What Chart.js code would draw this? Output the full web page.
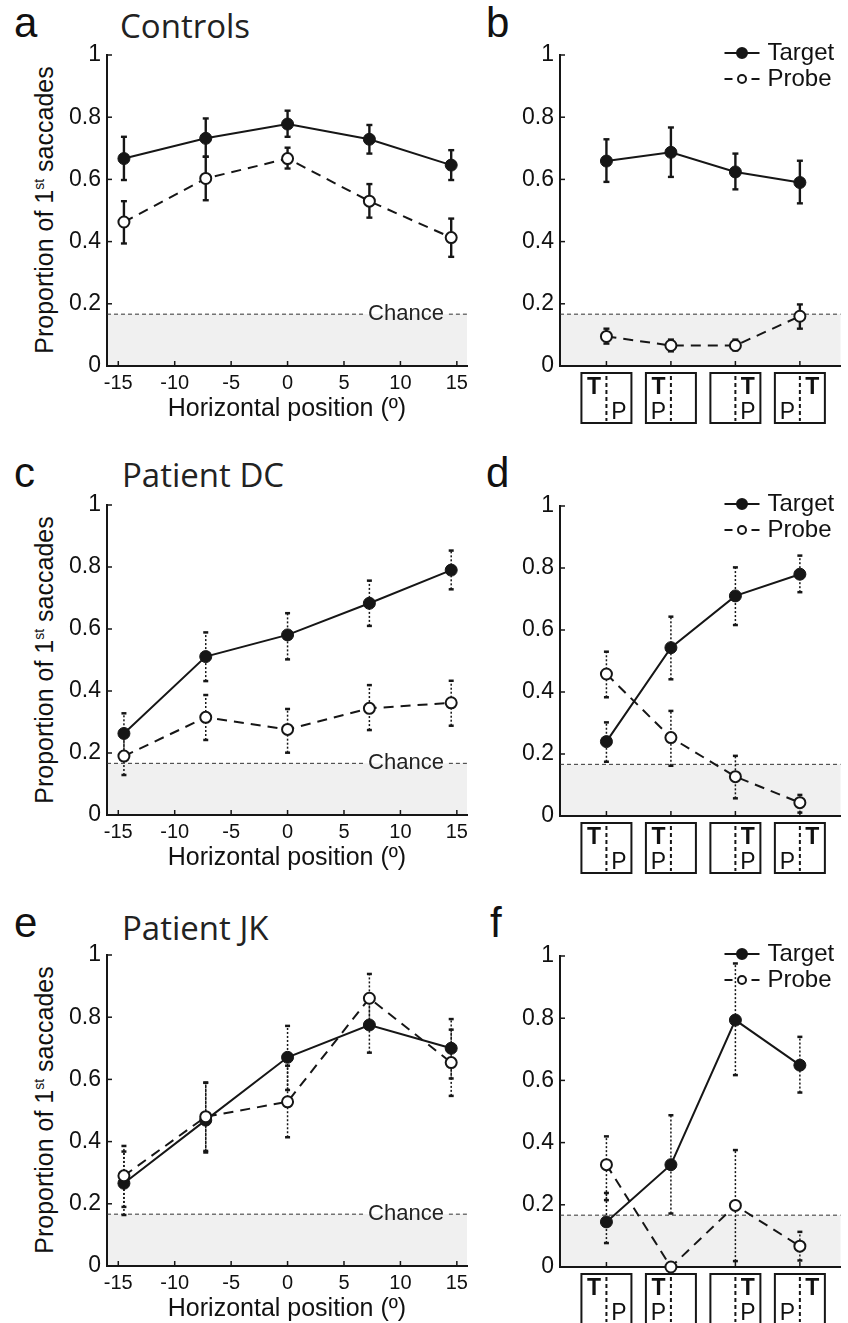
<!DOCTYPE html>
<html>
<head>
<meta charset="utf-8">
<script src="https://cdn.jsdelivr.net/npm/chart.js@4.4.1/dist/chart.umd.min.js"></script>
<style>
  body { margin: 0; background: #fff; }
  #fig { position: relative; width: 848px; height: 1323px; overflow: hidden;
         font-family: "Liberation Sans", Arial, sans-serif; color: #111; }
  #fig canvas { position: absolute; }
  .letter { position: absolute; font-size: 42px; line-height: 42px; }
  .title { position: absolute; font-family: "Open Sans", sans-serif; font-size: 33px; line-height: 33px; color: #222; }
  .ytitle { position: absolute; font-size: 25px; line-height: 25px; white-space: nowrap;
            transform: translate(-50%, -50%) rotate(-90deg); }
  .ytitle sup { font-size: 14px; vertical-align: 9px; line-height: 0; }
</style>
</head>
<body>
<div id="fig">
  <div class="letter" style="left:14px;top:2px">a</div>
  <div class="title" style="left:120px;top:9px">Controls</div>
  <div class="letter" style="left:486px;top:2px">b</div>
  <div class="letter" style="left:14px;top:452px">c</div>
  <div class="title" style="left:122px;top:458px">Patient DC</div>
  <div class="letter" style="left:486px;top:452px">d</div>
  <div class="letter" style="left:14px;top:902px">e</div>
  <div class="title" style="left:122px;top:911px">Patient JK</div>
  <div class="letter" style="left:490px;top:902px">f</div>
  <div class="ytitle" style="left:44px;top:210px">Proportion of 1<sup>st</sup> saccades</div>
  <div class="ytitle" style="left:44px;top:660px">Proportion of 1<sup>st</sup> saccades</div>
  <div class="ytitle" style="left:44px;top:1110px">Proportion of 1<sup>st</sup> saccades</div>
</div>
<script>
// positions and ticks
const posDeg = [-14.5, -7.25, 0, 7.25, 14.5]
const layoutPos = [1, 2, 3, 4]
const xTicksDeg = [-15, -10, -5, 0, 5, 10, 15]
const yTicks = [0, 0.2, 0.4, 0.6, 0.8, 1]
const iconT = ['L', 'L', 'R', 'R']
const iconP = ['R', 'L', 'R', 'L']
const CHANCE = 1 / 6

// a: controls, by horizontal position
const aTarget = [0.667, 0.732, 0.778, 0.729, 0.646]
const aTargetLo = [0.598, 0.673, 0.737, 0.683, 0.598]
const aTargetHi = [0.737, 0.796, 0.821, 0.775, 0.694]
const aProbe = [0.463, 0.603, 0.667, 0.530, 0.413]
const aProbeLo = [0.394, 0.533, 0.635, 0.477, 0.351]
const aProbeHi = [0.530, 0.673, 0.702, 0.585, 0.474]

// b: controls, by layout
const bTarget = [0.659, 0.687, 0.624, 0.590]
const bTargetLo = [0.592, 0.608, 0.568, 0.523]
const bTargetHi = [0.729, 0.767, 0.683, 0.660]
const bProbe = [0.095, 0.066, 0.066, 0.160]
const bProbeLo = [0.072, 0.047, 0.050, 0.120]
const bProbeHi = [0.120, 0.085, 0.085, 0.198]

// c: patient DC, by horizontal position
const cTarget = [0.263, 0.511, 0.581, 0.683, 0.790]
const cTargetLo = [0.199, 0.432, 0.502, 0.610, 0.728]
const cTargetHi = [0.328, 0.589, 0.651, 0.756, 0.853]
const cProbe = [0.190, 0.315, 0.276, 0.344, 0.362]
const cProbeLo = [0.129, 0.242, 0.201, 0.274, 0.288]
const cProbeHi = [0.250, 0.387, 0.342, 0.419, 0.433]

// d: patient DC, by layout
const dTarget = [0.240, 0.543, 0.710, 0.780]
const dTargetLo = [0.175, 0.441, 0.616, 0.722]
const dTargetHi = [0.302, 0.643, 0.802, 0.840]
const dProbe = [0.458, 0.253, 0.127, 0.043]
const dProbeLo = [0.383, 0.162, 0.057, 0.011]
const dProbeHi = [0.530, 0.339, 0.194, 0.068]

// e: patient JK, by horizontal position
const eTarget = [0.266, 0.469, 0.671, 0.775, 0.700]
const eTargetLo = [0.164, 0.365, 0.566, 0.686, 0.603]
const eTargetHi = [0.368, 0.589, 0.772, 0.860, 0.794]
const eProbe = [0.290, 0.480, 0.528, 0.861, 0.654]
const eProbeLo = [0.190, 0.370, 0.414, 0.780, 0.547]
const eProbeHi = [0.386, 0.590, 0.644, 0.939, 0.760]

// f: patient JK, by layout
const fTarget = [0.145, 0.329, 0.794, 0.649]
const fTargetLo = [0.077, 0.172, 0.617, 0.561]
const fTargetHi = [0.238, 0.488, 0.976, 0.740]
const fProbe = [0.329, 0.0, 0.198, 0.067]
const fProbeLo = [0.215, 0.0, 0.019, 0.021]
const fProbeHi = [0.420, 0.0, 0.376, 0.113]

const FONT = '"Liberation Sans", Arial, sans-serif'
const INK = '#161616'
const extras = {}

const line = (ctx, x1, y1, x2, y2) => {
  ctx.beginPath()
  ctx.moveTo(x1, y1)
  ctx.lineTo(x2, y2)
  ctx.stroke()
}

const figPlugin = {
  id: 'fig',
  beforeDatasetsDraw(chart) {
    const { ctx, chartArea: a, scales: { x, y } } = chart
    const ex = extras[chart.canvas.id]
    const yc = y.getPixelForValue(CHANCE)
    const y0 = y.getPixelForValue(0)
    ctx.save()
    ctx.fillStyle = '#f0f0f0'
    ctx.fillRect(a.left + 1, yc, a.right - a.left - 1, y0 - yc - 1)

    // chance line, broken around its label
    let gapL = a.right
    let gapR = a.right
    if (ex.chanceLabel) {
      ctx.font = '22px ' + FONT
      const w = ctx.measureText('Chance').width
      const cx = a.right - 61
      gapL = cx - w / 2 - 5
      gapR = cx + w / 2 + 5
      ctx.fillStyle = '#222'
      ctx.textAlign = 'center'
      ctx.textBaseline = 'middle'
      ctx.fillText('Chance', cx, yc)
    }
    ctx.strokeStyle = '#333'
    ctx.lineWidth = 1
    ctx.setLineDash([4, 3])
    line(ctx, a.left, yc, gapL, yc)
    if (gapR < a.right) line(ctx, gapR, yc, a.right, yc)
    ctx.setLineDash([])

    // inward tick marks
    ctx.strokeStyle = INK
    ctx.lineWidth = 1.5
    y.ticks.forEach(t => {
      const py = y.getPixelForValue(t.value)
      line(ctx, a.left, py, a.left + 5, py)
    })
    x.ticks.forEach(t => {
      const px = x.getPixelForValue(t.value)
      line(ctx, px, a.bottom, px, a.bottom - 5)
    })

    // error bars
    chart.data.datasets.forEach(ds => {
      ds.data.forEach((p, i) => {
        const px = x.getPixelForValue(p.x)
        const lo = y.getPixelForValue(ds.errLo[i])
        const hi = y.getPixelForValue(ds.errHi[i])
        if (Math.abs(lo - hi) < 0.5) return
        ctx.strokeStyle = INK
        if (ex.dotted) {
          ctx.lineWidth = 1.5
          ctx.setLineDash([2, 2])
          line(ctx, px, lo, px, hi)
          ctx.setLineDash([])
          ctx.lineWidth = 2.5
          line(ctx, px - 2.5, lo, px + 2.5, lo)
          line(ctx, px - 2.5, hi, px + 2.5, hi)
        } else {
          ctx.lineWidth = 2.4
          line(ctx, px, lo, px, hi)
          line(ctx, px - 3, lo, px + 3, lo)
          line(ctx, px - 3, hi, px + 3, hi)
        }
      })
    })
    ctx.restore()
  },
  afterDraw(chart) {
    const { ctx, chartArea: a, scales: { x } } = chart
    const ex = extras[chart.canvas.id]
    ctx.save()
    if (ex.legend) {
      chart.data.datasets.forEach((ds, i) => {
        const yy = a.top - 2 + i * 26
        const x1 = a.right - 116
        const x2 = a.right - 81
        const xm = (x1 + x2) / 2
        ctx.strokeStyle = INK
        ctx.lineWidth = 2
        ctx.setLineDash(ds.borderDash ? [8, 19] : [])
        line(ctx, x1, yy, x2, yy)
        ctx.setLineDash([])
        ctx.beginPath()
        ctx.arc(xm, yy, ds.borderDash ? 4 : 5, 0, Math.PI * 2)
        ctx.fillStyle = ds.pointBackgroundColor
        ctx.fill()
        ctx.stroke()
        ctx.fillStyle = '#111'
        ctx.font = '24px ' + FONT
        ctx.textAlign = 'left'
        ctx.textBaseline = 'middle'
        ctx.fillText(ds.label, a.right - 73, yy)
      })
    }
    if (ex.icons) {
      x.ticks.forEach((t, i) => {
        const cx = x.getPixelForValue(t.value)
        const top = a.bottom + 7
        ctx.strokeStyle = INK
        ctx.lineWidth = 2
        ctx.strokeRect(cx - 25, top, 50, 50)
        ctx.setLineDash([4, 3])
        line(ctx, cx, top + 3, cx, top + 48)
        ctx.setLineDash([])
        ctx.fillStyle = '#111'
        ctx.textAlign = 'center'
        ctx.textBaseline = 'middle'
        ctx.font = 'bold 23px ' + FONT
        ctx.fillText('T', cx + (iconT[i] === 'L' ? -12.5 : 12.5), top + 15)
        ctx.font = '23px ' + FONT
        ctx.fillText('P', cx + (iconP[i] === 'L' ? -12.5 : 12.5), top + 40)
      })
    }
    ctx.restore()
  },
}

const pts = (xs, ys) => xs.map((x, i) => ({ x, y: ys[i] }))
const yLabel = v => (v === 0 ? '0' : v === 1 ? '1' : v.toFixed(1))

function buildPanel(pn) {
  const deg = pn.kind === 'deg'
  const xs = deg ? posDeg : layoutPos
  const W = deg ? 480 : 368
  const H = 20 + pn.h + 62
  const cv = document.createElement('canvas')
  cv.id = pn.id
  cv.width = W
  cv.height = H
  cv.style.left = (deg ? 0 : 480) + 'px'
  cv.style.top = (pn.top - 20) + 'px'
  document.getElementById('fig').appendChild(cv)
  extras[pn.id] = { chanceLabel: deg, legend: !deg, icons: !deg, dotted: pn.dotted }

  new Chart(cv, {
    type: 'line',
    data: {
      datasets: [
        {
          label: 'Target',
          data: pts(xs, pn.target[0]),
          errLo: pn.target[1],
          errHi: pn.target[2],
          borderColor: INK,
          borderWidth: 2,
          pointRadius: 6,
          pointBackgroundColor: INK,
          pointBorderColor: INK,
          pointBorderWidth: 1,
          order: 1,
          clip: false,
        },
        {
          label: 'Probe',
          data: pts(xs, pn.probe[0]),
          errLo: pn.probe[1],
          errHi: pn.probe[2],
          borderColor: INK,
          borderWidth: 2,
          borderDash: [10, 7],
          pointRadius: 5.5,
          pointBackgroundColor: '#ffffff',
          pointBorderColor: INK,
          pointBorderWidth: 2,
          order: 0,
          clip: false,
        },
      ],
    },
    options: {
      responsive: false,
      animation: false,
      events: [],
      layout: { padding: { left: 0, right: deg ? 13 : 0, top: 20, bottom: 0 } },
      plugins: { legend: { display: false }, tooltip: { enabled: false } },
      scales: {
        x: {
          type: 'linear',
          min: deg ? -16 : 0.28,
          max: deg ? 15.9 : 4.63,
          grid: { display: false, drawTicks: false },
          border: { display: true, color: INK, width: 2 },
          ticks: { display: deg, font: { family: FONT, size: 20 }, color: '#111', padding: 5 },
          title: {
            display: deg,
            text: 'Horizontal position (º)',
            font: { family: FONT, size: 25 },
            color: '#111',
            padding: { top: 0, bottom: 4 },
          },
          afterBuildTicks: (s) => { s.ticks = (deg ? xTicksDeg : layoutPos).map(value => ({ value })) },
          afterFit: (s) => { s.height = 62 },
        },
        y: {
          type: 'linear',
          min: 0,
          max: 1,
          grid: { display: false, drawTicks: false },
          border: { display: true, color: INK, width: 2 },
          ticks: { font: { family: FONT, size: 23 }, color: '#111', padding: 6, callback: yLabel },
          afterBuildTicks: (s) => { s.ticks = yTicks.map(value => ({ value })) },
          afterFit: (s) => { s.width = deg ? 107 : 80 },
        },
      },
    },
    plugins: [figPlugin],
  })
}

const panels = [
  { id: 'pa', kind: 'deg', top: 55, h: 311, dotted: false,
    target: [aTarget, aTargetLo, aTargetHi], probe: [aProbe, aProbeLo, aProbeHi] },
  { id: 'pb', kind: 'layout', top: 55, h: 311, dotted: false,
    target: [bTarget, bTargetLo, bTargetHi], probe: [bProbe, bProbeLo, bProbeHi] },
  { id: 'pc', kind: 'deg', top: 505, h: 310, dotted: true,
    target: [cTarget, cTargetLo, cTargetHi], probe: [cProbe, cProbeLo, cProbeHi] },
  { id: 'pd', kind: 'layout', top: 506, h: 310, dotted: true,
    target: [dTarget, dTargetLo, dTargetHi], probe: [dProbe, dProbeLo, dProbeHi] },
  { id: 'pe', kind: 'deg', top: 955, h: 311, dotted: true,
    target: [eTarget, eTargetLo, eTargetHi], probe: [eProbe, eProbeLo, eProbeHi] },
  { id: 'pf', kind: 'layout', top: 956, h: 311, dotted: true,
    target: [fTarget, fTargetLo, fTargetHi], probe: [fProbe, fProbeLo, fProbeHi] },
]

panels.forEach(buildPanel)
</script>
</body>
</html>
